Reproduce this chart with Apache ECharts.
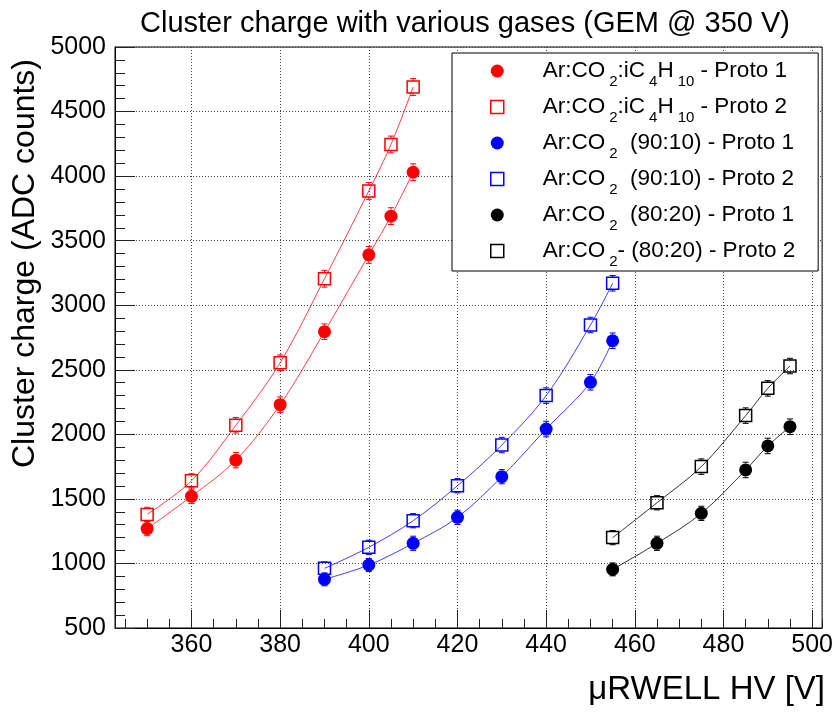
<!DOCTYPE html>
<html><head><meta charset="utf-8">
<script src="https://cdn.jsdelivr.net/npm/echarts@6/dist/echarts.min.js"></script>
<style>html,body{margin:0;padding:0;background:#fff}#c{width:836px;height:715px}</style>
</head><body><div id="c"></div>
<script>
// ---- data ----
const hvRed = [350, 360, 370, 380, 390, 400, 405, 410];
const qRedP1 = [1270, 1520, 1800, 2230, 2795, 3390, 3690, 4030];
const qRedP2 = [1380, 1640, 2070, 2555, 3205, 3885, 4245, 4690];
const eRedP1 = [55, 55, 60, 60, 60, 65, 65, 65];
const eRedP2 = [55, 55, 60, 60, 65, 65, 65, 65];

const hvBlue = [390, 400, 410, 420, 430, 440, 450, 455];
const qBlueP1 = [877, 988, 1156, 1357, 1672, 2041, 2403, 2725];
const qBlueP2 = [962, 1125, 1331, 1602, 1917, 2300, 2847, 3170];
const eBlueP1 = [50, 50, 55, 55, 55, 60, 60, 60];
const eBlueP2 = [50, 55, 55, 55, 60, 60, 60, 60];

const hvBlack = [455, 465, 475, 485, 490, 495];
const qBlackP1 = [954, 1156, 1388, 1724, 1910, 2059];
const qBlackP2 = [1200, 1470, 1750, 2145, 2356, 2529];
const eBlackP1 = [50, 55, 55, 60, 60, 60];
const eBlackP2 = [55, 55, 60, 60, 60, 60];

const seriesNames = [
  'Ar:CO2:iC4H10 - Proto 1', 'Ar:CO2:iC4H10 - Proto 2',
  'Ar:CO2  (90:10) - Proto 1', 'Ar:CO2  (90:10) - Proto 2',
  'Ar:CO2  (80:20) - Proto 1', 'Ar:CO2- (80:20) - Proto 2'
];
const legendRich = [
  '{a|Ar:CO}{s|2}{t|:iC}{s|4}{t|H}{s|10}{t| - Proto 1}',
  '{a|Ar:CO}{s|2}{t|:iC}{s|4}{t|H}{s|10}{t| - Proto 2}',
  '{a|Ar:CO}{s|2}{t|  (90:10) - Proto 1}',
  '{a|Ar:CO}{s|2}{t|  (90:10) - Proto 2}',
  '{a|Ar:CO}{s|2}{t|  (80:20) - Proto 1}',
  '{a|Ar:CO}{s|2}{t|- (80:20) - Proto 2}'
];
const titleText = 'Cluster charge with various gases (GEM @ 350 V)';
const yTitle = 'Cluster charge (ADC counts)';
const xTitle = '\u03bcRWELL HV [V]';

// ---- build ----
const FONT = '"Liberation Sans", Arial, Helvetica, sans-serif';
const groups = [
  {x: hvRed, y: qRedP1, e: eRedP1, color: '#ff0000', line: 'rgba(255,0,0,0.75)', filled: true},
  {x: hvRed, y: qRedP2, e: eRedP2, color: '#ff0000', line: 'rgba(255,0,0,0.75)', filled: false},
  {x: hvBlue, y: qBlueP1, e: eBlueP1, color: '#0000ff', line: 'rgba(0,0,255,0.75)', filled: true},
  {x: hvBlue, y: qBlueP2, e: eBlueP2, color: '#0000ff', line: 'rgba(0,0,255,0.75)', filled: false},
  {x: hvBlack, y: qBlackP1, e: eBlackP1, color: '#000000', line: 'rgba(0,0,0,0.8)', filled: true},
  {x: hvBlack, y: qBlackP2, e: eBlackP2, color: '#000000', line: 'rgba(0,0,0,0.8)', filled: false}
];

function itemStyleOf(g) {
  return g.filled ? {color: g.color, opacity: 1}
                  : {color: 'rgba(0,0,0,0)', borderColor: g.color, borderWidth: 1.5, opacity: 1};
}

const series = [];
groups.forEach((g, i) => {
  const pts = g.x.map((v, k) => [v, g.y[k]]);
  const epts = g.x.map((v, k) => [v, g.y[k], g.e[k]]);
  series.push({
    type: 'line', name: seriesNames[i] + ' fit', data: pts, smooth: 0.35,
    symbol: 'none', silent: true, z: 2,
    lineStyle: {color: g.line, width: 1}
  });
  const half = g.filled ? 6.5 : 6;
  series.push({
    type: 'custom', name: seriesNames[i] + ' err', data: epts, silent: true, z: 3,
    renderItem: function (params, api) {
      const x = api.value(0), y = api.value(1), e = api.value(2);
      const p = api.coord([x, y]);
      const hi = api.coord([x, y + e]);
      const lo = api.coord([x, y - e]);
      const st = {stroke: g.color, lineWidth: 1};
      const cap = 3;
      return {type: 'group', children: [
        {type: 'line', shape: {x1: p[0], y1: hi[1], x2: p[0], y2: p[1] - half}, style: st},
        {type: 'line', shape: {x1: p[0], y1: p[1] + half, x2: p[0], y2: lo[1]}, style: st},
        {type: 'line', shape: {x1: p[0] - cap, y1: hi[1], x2: p[0] + cap, y2: hi[1]}, style: st},
        {type: 'line', shape: {x1: p[0] - cap, y1: lo[1], x2: p[0] + cap, y2: lo[1]}, style: st}
      ]};
    }
  });
  series.push({
    type: 'scatter', name: seriesNames[i], data: pts, z: 4,
    symbol: g.filled ? 'circle' : 'rect', symbolSize: g.filled ? 13 : 12,
    itemStyle: itemStyleOf(g)
  });
});

const richMap = {};
seriesNames.forEach((n, i) => richMap[n] = legendRich[i]);

const option = {
  animation: false,
  backgroundColor: '#ffffff',
  textStyle: {fontFamily: FONT},
  title: {
    text: titleText, left: 140, top: 9, padding: 0,
    textStyle: {fontSize: 29, fontWeight: 'normal', color: '#000', fontFamily: FONT}
  },
  grid: {left: 115, right: 11, top: 47, bottom: 87, show: true,
         borderColor: '#000', borderWidth: 1, backgroundColor: 'rgba(0,0,0,0)'},
  legend: {
    orient: 'vertical', left: 452, top: 53,
    padding: [0, 23, 2, 38], itemGap: 0,
    itemWidth: 13, itemHeight: 13,
    backgroundColor: '#fff', borderColor: '#000', borderWidth: 1,
    selectedMode: false,
    data: seriesNames.map((n, i) => ({
      name: n, icon: groups[i].filled ? 'circle' : 'rect',
      itemStyle: itemStyleOf(groups[i])
    })),
    formatter: n => richMap[n],
    textStyle: {
      color: '#000', fontFamily: FONT, fontSize: 22.5,
      rich: {
        a: {fontSize: 22.5, lineHeight: 35, color: '#000', fontFamily: FONT, padding: [0, 0, 0, 34]},
        t: {fontSize: 22.5, lineHeight: 35, color: '#000', fontFamily: FONT},
        s: {fontSize: 15, lineHeight: 14, color: '#000', fontFamily: FONT, padding: [21, 0, 0, 4]}
      }
    }
  },
  xAxis: [{
    type: 'value', min: 342.75, max: 502.25, splitNumber: 8,
    axisLine: {show: true, onZero: false, lineStyle: {color: '#000', width: 1}},
    axisTick: {show: true, inside: true, length: 18, lineStyle: {color: '#222', width: 1}},
    axisLabel: {fontSize: 25, color: '#000', margin: 5, fontFamily: FONT,
                showMinLabel: false, showMaxLabel: false},
    splitLine: {show: true, lineStyle: {color: '#444', width: 1, type: [1, 2]}}
  }, {
    type: 'value', min: 342.75, max: 502.25, splitNumber: 32, position: 'bottom',
    axisLine: {show: false, onZero: false},
    axisTick: {show: true, inside: true, length: 9, lineStyle: {color: '#222', width: 1}},
    axisLabel: {show: false}, splitLine: {show: false}
  }],
  yAxis: {
    type: 'value', min: 500, max: 5000, interval: 500,
    axisLine: {show: true, onZero: false, lineStyle: {color: '#000', width: 1}},
    axisTick: {show: true, inside: true, length: 20, lineStyle: {color: '#222', width: 1}},
    minorTick: {show: true, splitNumber: 5, length: 10, lineStyle: {color: '#222', width: 1}},
    axisLabel: {fontSize: 25, color: '#000', margin: 9, fontFamily: FONT,
                formatter: v => String(v)},
    splitLine: {show: true, lineStyle: {color: '#444', width: 1, type: [1, 2]}}
  },
  graphic: [
    {type: 'text', x: 25, y: 468, rotation: Math.PI / 2,
     style: {text: yTitle, fontSize: 32, fontFamily: FONT, fill: '#000', align: 'left', verticalAlign: 'middle'}},
    {type: 'text', x: 825, y: 706,
     style: {text: xTitle, fontSize: 33, fontFamily: FONT, fill: '#000', align: 'right', verticalAlign: 'bottom'}}
  ],
  series: series
};

const chart = echarts.init(document.getElementById('c'));
chart.setOption(option);
</script>
</body></html>
